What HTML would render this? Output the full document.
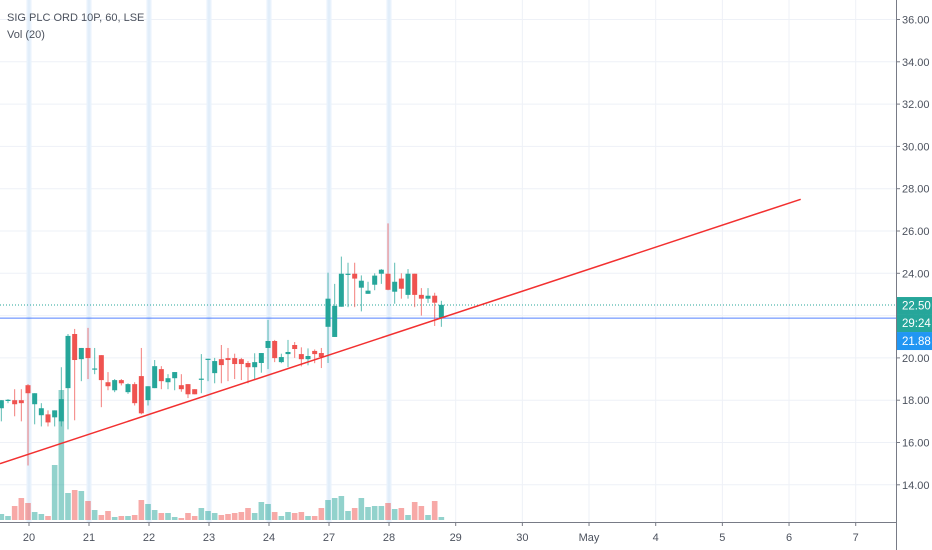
<!DOCTYPE html>
<html><head><meta charset="utf-8">
<style>
html,body{margin:0;padding:0;background:#fff;}
#wrap{position:relative;width:932px;height:550px;overflow:hidden;font-family:"Liberation Sans",sans-serif;}
svg{position:absolute;left:0;top:0;}
.lbl{position:absolute;font-size:11px;color:#4c525e;}
</style></head>
<body>
<div id="wrap">
<svg id="svg" width="932" height="550"></svg>
<div class="lbl" style="left:7px;top:12px;">SIG PLC ORD 10P, 60, LSE</div>
<div class="lbl" style="left:7px;top:29px;">Vol (20)</div>
</div>
<script>
// ---- data ----
const opens  = [17.62,17.98,18.00,18.00,18.71,17.81,17.29,17.33,17.19,17.00,18.57,21.13,19.94,20.47,19.45,20.13,18.85,18.47,18.95,18.38,18.76,19.14,18.00,18.57,19.47,18.85,19.04,18.71,18.76,18.52,18.98,19.92,19.28,19.94,19.99,19.99,19.94,19.76,19.56,19.76,20.47,20.80,19.80,20.18,20.61,20.18,19.94,20.33,20.23,21.47,20.99,22.42,23.93,23.98,23.32,23.03,23.46,23.98,23.98,23.13,23.75,22.98,23.98,22.98,22.80,22.94,21.89];
const highs  = [18.00,18.05,18.52,18.52,18.76,18.33,17.86,17.52,17.52,19.56,21.13,21.37,20.47,21.42,20.47,20.13,19.33,19.00,19.00,18.80,18.85,20.47,18.66,19.90,19.61,19.23,19.33,19.23,18.76,18.52,20.18,19.96,20.00,20.61,20.47,20.20,20.00,19.85,20.22,20.23,21.80,20.85,20.20,20.85,20.75,20.50,20.45,20.40,20.47,24.03,23.50,24.79,24.50,24.50,23.90,23.60,24.00,24.20,26.36,24.50,24.00,24.20,23.98,23.30,23.30,23.08,22.70];
const lows   = [17.00,17.86,17.24,17.00,14.91,16.86,16.76,16.76,16.76,16.76,16.62,17.05,18.90,19.00,19.23,17.67,18.47,18.38,18.70,18.30,17.75,17.33,17.75,18.57,18.52,18.52,18.47,18.40,18.10,18.28,18.33,18.90,18.80,18.80,18.90,19.00,18.95,18.80,19.00,19.30,19.47,19.80,19.75,19.56,20.00,19.60,19.65,19.75,19.52,19.76,20.99,22.42,22.40,22.40,22.20,23.03,23.20,23.50,23.20,22.56,22.80,22.80,22.40,22.00,22.60,21.51,21.47];
const closes = [18.00,18.02,17.81,17.86,18.33,18.33,17.62,16.95,17.52,18.05,21.04,19.90,20.47,19.99,19.50,18.95,18.66,18.95,18.80,18.76,17.86,17.38,18.66,19.61,18.90,19.04,19.33,18.52,18.28,18.28,19.02,19.96,19.85,19.66,19.90,19.71,19.71,19.56,19.80,20.23,20.80,19.99,20.04,20.28,20.42,19.94,20.09,20.18,20.04,22.80,22.46,23.98,23.98,23.75,23.65,23.18,23.89,24.17,23.22,23.60,23.27,23.98,22.98,22.80,22.94,22.61,22.51];
const volumes= [6,4,14,22,17,8,6,4,55,130,27,30,29,19,10,5,9,3,4,4,5,20,16,10,7,7,3,2,7,4,12,9,7,5,6,7,8,12,7,18,16,8,4,8,7,8,4,4,12,20,22,24,9,12,22,13,14,14,17,11,12,5,18,14,5,19,3];
const firstIndex = -4;
const priceTicks = [14,16,18,20,22,24,26,28,30,32,34,36];
const dateLabels = ["20","21","22","23","24","27","28","29","30","May","4","5","6","7"];
const dateIndex  = [0,9,18,27,36,45,54,64,74,84,94,104,114,124];
const sessionStarts = [0,9,18,27,36,45,54];
const trendIdx = [-4.2,115.9];
const trendVal = [15.0,27.5];
const lastPrice = 22.50;
const bidPrice = 21.88;

// ---- scales ----
const X0=28, DX=6.667, PLOT_R=896, AXIS_Y=522;
const xOf = i => X0 + i*DX;
const yOf = v => 19.5 + (36 - v)*21.15;
const VBASE=520, VSCALE=1.0;
const vh = v => v*VSCALE;

const svg=document.getElementById('svg');
const NS='http://www.w3.org/2000/svg';
function mk(tag,attrs,parent){const e=document.createElementNS(NS,tag);for(const k in attrs)e.setAttribute(k,attrs[k]);(parent||svg).appendChild(e);return e;}

// grid
const grid=mk('g',{});


priceTicks.forEach(v=>{mk('line',{x1:0,x2:PLOT_R,y1:yOf(v),y2:yOf(v),stroke:'#eef1f7','stroke-width':1},grid);});
dateIndex.forEach(i=>{mk('line',{x1:xOf(i)+1,x2:xOf(i)+1,y1:0,y2:AXIS_Y,stroke:'#eef1f7','stroke-width':1},grid);});
sessionStarts.forEach(i=>{
  const b=mk('rect',{x:xOf(i)-1.5,y:0,width:5,height:AXIS_Y,fill:'#e8f2fc'},grid);
  
  
  mk('line',{x1:xOf(i)+1,x2:xOf(i)+1,y1:0,y2:AXIS_Y,stroke:'#dce9f7','stroke-width':1},grid);
});

// volume
const vg=mk('g',{});


volumes.forEach((v,k)=>{
  const i=k+firstIndex;const up=closes[k]>=opens[k];
  const r=mk('rect',{x:xOf(i)-2.8,y:VBASE-vh(v),width:5.6,height:vh(v),fill:up?'#26a69a':'#ef5350',opacity:0.5},vg);
  
  
});

// horizontal price lines
const pl=mk('line',{x1:0,x2:PLOT_R,y1:yOf(lastPrice),y2:yOf(lastPrice),stroke:'#26a69a','stroke-width':1,'stroke-dasharray':'1 2'});


const bl=mk('line',{x1:0,x2:PLOT_R,y1:yOf(bidPrice),y2:yOf(bidPrice),stroke:'#2962ff','stroke-width':1,opacity:0.8});



// candles
const cg=mk('g',{});


opens.forEach((o,k)=>{
  const i=k+firstIndex;const c=closes[k];const up=c>=o;const col=up?'#26a69a':'#ef5350';
  const x=xOf(i);
  const w=mk('line',{x1:x,x2:x,y1:yOf(highs[k]),y2:yOf(lows[k]),stroke:col,'stroke-width':1,opacity:0.75},cg);
  
  
  const top=yOf(Math.max(o,c)),bot=yOf(Math.min(o,c));
  const b=mk('rect',{x:x-2.5,y:top,width:5,height:Math.max(1.2,bot-top),fill:col},cg);
  
  
});

// trend line
const tl=mk('line',{x1:xOf(trendIdx[0]),y1:yOf(trendVal[0]),x2:xOf(trendIdx[1]),y2:yOf(trendVal[1]),stroke:'#f23030','stroke-width':1.5});



// axes
mk('rect',{x:PLOT_R,y:0,width:40,height:550,fill:'#fff'});
mk('rect',{x:0,y:AXIS_Y,width:PLOT_R,height:30,fill:'#fff'});
const ya=mk('line',{x1:PLOT_R+0.5,x2:PLOT_R+0.5,y1:0,y2:550,stroke:'#787b86','stroke-width':1});


const xa=mk('line',{x1:0,x2:PLOT_R,y1:AXIS_Y+0.5,y2:AXIS_Y+0.5,stroke:'#787b86','stroke-width':1});


priceTicks.forEach(v=>{
  mk('line',{x1:PLOT_R,x2:PLOT_R+4,y1:yOf(v),y2:yOf(v),stroke:'#787b86'});
  const t=mk('text',{x:PLOT_R+6,y:yOf(v)+4,'font-size':11,fill:'#4c525e','font-family':'Liberation Sans, sans-serif'});
  t.textContent=v.toFixed(2);
  
  
});
dateLabels.forEach((d,k)=>{
  const x=xOf(dateIndex[k])+1;
  mk('line',{x1:x,x2:x,y1:AXIS_Y,y2:AXIS_Y+4,stroke:'#787b86'});
  const t=mk('text',{x:x,y:541,'font-size':11,fill:'#4c525e','text-anchor':'middle','font-family':'Liberation Sans, sans-serif'});
  t.textContent=d;
  
  
});

// price badges
function badge(y,h,fill,txt,name){
  const g=mk('g',{});
  
  
  mk('rect',{x:PLOT_R+1,y:y,width:36,height:h,fill:fill},g);
  const t=mk('text',{x:PLOT_R+6,y:y+h/2+4,'font-size':11.5,fill:'#fff','font-family':'Liberation Sans, sans-serif'},g);
  t.textContent=txt;
}
const ly=yOf(lastPrice);
badge(ly-8,17,'#26a69a',lastPrice.toFixed(2),'last-price-badge');
badge(ly+9,18,'#26a69a','29:24','bar-countdown-badge');
badge(ly+27,18,'#2196f3',bidPrice.toFixed(2),'bid-price-badge');
</script>
</body></html>
